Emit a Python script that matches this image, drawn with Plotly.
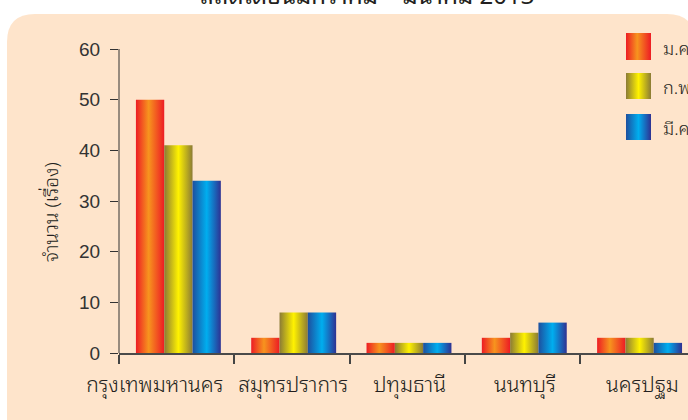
import plotly.graph_objects as go

# Reported cases per province, Jan-Mar
provinces = ["กรุงเทพมหานคร", "สมุทรปราการ", "ปทุมธานี", "นนทบุรี", "นครปฐม"]
months = ["ม.ค.", "ก.พ.", "มี.ค."]
jan = [50, 3, 2, 3, 3]
feb = [41, 8, 2, 4, 3]
mar = [34, 8, 2, 6, 2]
y_ticks = [0, 10, 20, 30, 40, 50, 60]
y_title = "จำนวน (เรื่อง)"
title_text = "สถิติเดือนมกราคม – มีนาคม 2013"

series = [jan, feb, mar]
gradients = [
    [[0, "#ED1C24"], [0.45, "#F7941E"], [1, "#ED1C24"]],
    [[0, "#8B7B35"], [0.5, "#FFF200"], [1, "#8B7B35"]],
    [[0, "#1D4F9F"], [0.5, "#00AEEF"], [1, "#2E3192"]],
]

W, H = 688, 420
ML, MR, MT, MB = 119, 0, 0, 67
PW, PH = W - ML - MR, H - MT - MB
AXIS_TOP_PX = 49                      # pixel row of the top tick
Y_TOP = max(y_ticks) * PH / (PH - AXIS_TOP_PX)
CAT_PX = 115.3                        # pixel width of one category slot
X_RANGE = [-0.5, -0.5 + PW / CAT_PX]
BAR_W = 0.2455                        # one bar, in category units
GROUP_SHIFT = 0.015                   # groups sit a touch right of centre
# the long first label is nudged left so it clears its neighbour
LABEL_NUDGE = [-0.19, 0.01, 0.02, 0.02, 0.04]

THAI = "Noto Sans Thai Looped, Noto Sans Thai, Noto Sans, sans-serif"
NUM = "Liberation Sans, Arial, sans-serif"


def px(x):
    return (x - ML) / PW


def py(y):
    return (H - MB - y) / PH


fig = go.Figure()

# grouped bars, each drawn as a filled polygon with a horizontal gradient
for j, vals in enumerate(series):
    for i, v in enumerate(vals):
        c = i + GROUP_SHIFT + (j - 1) * BAR_W
        l, r = c - BAR_W / 2, c + BAR_W / 2
        fig.add_trace(go.Scatter(
            x=[l, l, r, r, l], y=[0, v, v, 0, 0],
            mode="lines", line=dict(width=0),
            fill="toself",
            fillgradient=dict(type="horizontal", colorscale=gradients[j]),
            name=months[j], showlegend=False,
            hovertemplate=f"{provinces[i]}<br>{months[j]}: {v}<extra></extra>",
        ))

# legend swatches on a small helper subplot (pixel units)
LEG_X = [600, 688]
LEG_Y = [20, 150]
sw_left, sw_right = 626, 651
sw_rows = [(33, 60), (73, 99), (114, 140)]
for j, (t, b) in enumerate(sw_rows):
    fig.add_trace(go.Scatter(
        x=[sw_left, sw_left, sw_right, sw_right, sw_left], y=[b, t, t, b, b],
        xaxis="x2", yaxis="y2",
        mode="lines", line=dict(width=0), fill="toself",
        fillgradient=dict(type="horizontal", colorscale=gradients[j]),
        showlegend=False, hoverinfo="skip",
    ))
    fig.add_annotation(
        x=661, y=(t + b) / 2, xref="x2", yref="y2",
        text=months[j], showarrow=False, xanchor="left", yanchor="middle",
        font=dict(family=THAI, size=18, weight=350, color="#231F20"),
    )

shapes = [
    # rounded peach panel
    dict(
        type="path", xref="paper", yref="paper", layer="below",
        path=(f"M {px(7)},{py(42)} Q {px(7)},{py(14)} {px(35)},{py(14)} "
              f"L {px(667)},{py(14)} Q {px(695)},{py(14)} {px(695)},{py(42)} "
              f"L {px(695)},{py(430)} L {px(7)},{py(430)} Z"),
        fillcolor="#FEE4CB", line=dict(width=0),
    ),
    # vertical axis line, stopping at the top tick
    dict(type="line", xref="paper", yref="y", x0=0, x1=0, y0=0, y1=max(y_ticks),
         line=dict(color="#333333", width=1)),
]

fig.add_annotation(
    x=px(50), y=py(212), xref="paper", yref="paper", text=y_title,
    xanchor="center", yanchor="middle",
    textangle=-90, showarrow=False,
    font=dict(family=THAI, size=19, weight=350, color="#231F20"),
)
fig.add_annotation(
    x=px(367), y=py(14), xref="paper", yref="paper", text=title_text,
    xanchor="center", showarrow=False, yanchor="bottom",
    font=dict(family=THAI, size=24, color="#231F20"),
)

fig.update_layout(
    width=W, height=H,
    margin=dict(l=ML, r=MR, t=MT, b=MB, pad=0),
    paper_bgcolor="white", plot_bgcolor="rgba(0,0,0,0)",
    showlegend=False, shapes=shapes,
    xaxis=dict(
        range=X_RANGE, tickmode="array",
        tickvals=[i + d for i, d in enumerate(LABEL_NUDGE)],
        ticktext=provinces, ticks="", showgrid=False, zeroline=False,
        showline=True, linecolor="#4A4A4A", linewidth=2,
        tickangle=0, automargin=False,
        ticklabelstandoff=12,
        tickfont=dict(family=THAI, size=21, weight=350, color="#231F20"),
        minor=dict(ticks="outside", tickmode="linear", tick0=-0.5, dtick=1,
                   ticklen=9, tickwidth=2, tickcolor="#444444", showgrid=False),
    ),
    yaxis=dict(
        range=[0, Y_TOP], tickmode="array", tickvals=y_ticks,
        ticks="outside", ticklen=8, tickwidth=1, tickcolor="#333333",
        showgrid=False, zeroline=False, showline=False, automargin=False,
        ticklabelstandoff=6,
        tickfont=dict(family=NUM, size=19, color="#333333"),
    ),
    xaxis2=dict(domain=[px(LEG_X[0]), 1], range=LEG_X, visible=False,
                fixedrange=True, anchor="y2"),
    yaxis2=dict(domain=[py(LEG_Y[1]), py(LEG_Y[0])], range=[LEG_Y[1], LEG_Y[0]],
                visible=False, fixedrange=True, anchor="x2"),
)

fig.write_html("out.html")
